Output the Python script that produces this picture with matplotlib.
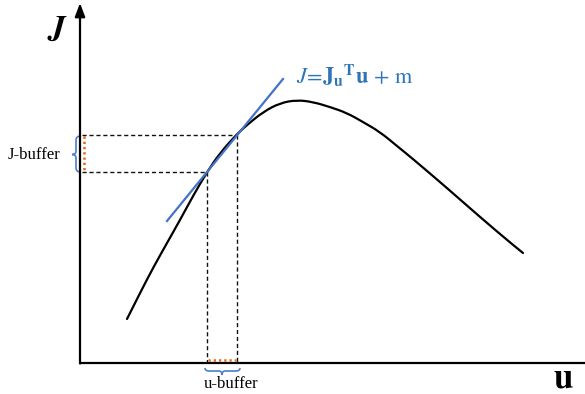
import matplotlib
matplotlib.use("Agg")
import matplotlib.pyplot as plt
from matplotlib.path import Path
from matplotlib.patches import PathPatch

plt.rcParams['font.family'] = ['Liberation Serif', 'DejaVu Serif']
plt.rcParams['mathtext.fontset'] = 'stix'

# curve J(u), drawn in pixel-like units (y grows downwards)
curve_u = [127, 140, 153, 167, 180, 193, 207, 220, 237, 247, 263, 280,
           297, 313, 330, 347, 363, 380, 397, 413, 447, 480, 513, 523]
curve_j = [319, 293, 268, 243, 220, 196, 172, 153, 134, 125, 112, 103,
           100, 102, 107, 113, 122, 132, 146, 159, 188, 217, 245, 253]

# tangent line end points
tan_u = [167, 283]
tan_j = [221, 79]

# buffer corners
u_lo, u_hi = 207, 237
j_lo, j_hi = 172, 135

# axes origin / extents
orig_u, orig_j = 80, 363
u_end, j_end = 585, 3


def smooth_path(xs, ys):
    # quadratic segments through mid-points, data points act as controls
    pts = list(zip(xs, ys))
    verts = [pts[0]]
    codes = [Path.MOVETO]
    for i in range(1, len(pts) - 1):
        mid = ((pts[i][0] + pts[i + 1][0]) / 2, (pts[i][1] + pts[i + 1][1]) / 2)
        if i == len(pts) - 2:
            mid = pts[-1]
        verts += [pts[i], mid]
        codes += [Path.CURVE3, Path.CURVE3]
    return Path(verts, codes)


fig = plt.figure(figsize=(5.85, 3.94), dpi=100)
ax = fig.add_axes([0, 0, 1, 1])
ax.set_xlim(0, 585)
ax.set_ylim(394, 0)
ax.axis('off')

# axes
ax.plot([orig_u, u_end], [orig_j, orig_j], color='black', lw=1.6,
        solid_capstyle='butt')
ax.annotate('', xy=(orig_u, j_end), xytext=(orig_u, orig_j + 0.5),
            arrowprops=dict(arrowstyle='-|>,head_length=0.8,head_width=0.3',
                            color='black', lw=1.6, shrinkA=0, shrinkB=0))

# dashed guides
dash = dict(color='#111111', lw=1.0, ls=(0, (3, 2)))
ax.plot([82, u_hi], [j_hi, j_hi], **dash)
ax.plot([82, u_lo], [j_lo, j_lo], **dash)
ax.plot([u_lo, u_lo], [j_lo, orig_j], **dash)
ax.plot([u_hi, u_hi], [j_hi, orig_j], **dash)

# orange buffer marks
dot = dict(color='#E0661A', lw=1.8, ls=(0, (0.9, 1.2)))
ax.plot([83.5, 83.5], [j_hi + 1, j_lo - 1], **dot)
ax.plot([u_lo + 1, u_hi - 1], [360, 360], **dot)

# curve and tangent
ax.add_patch(PathPatch(smooth_path(curve_u, curve_j), fill=False,
                       ec='black', lw=1.6, capstyle='round'))
ax.plot(tan_u, tan_j, color='#4472C4', lw=1.6)

# braces
brace_c = '#4A7FD0'
left = Path([(81, j_hi + 1), (76, j_hi + 1), (76, j_hi + 5),
             (76, 151), (76, 154.5), (72, 154.5),
             (76, 154.5), (76, 158), (76, j_lo - 4),
             (76, j_lo), (81, j_lo)],
            [Path.MOVETO, Path.CURVE3, Path.CURVE3,
             Path.LINETO, Path.CURVE3, Path.CURVE3,
             Path.CURVE3, Path.CURVE3, Path.LINETO,
             Path.CURVE3, Path.CURVE3])
ax.add_patch(PathPatch(left, fill=False, ec=brace_c, lw=1.2))
bottom = Path([(205, 368), (205, 371), (209, 371),
               (219, 371), (222, 371), (222, 375),
               (222, 371), (225, 371), (236, 371),
               (240, 371), (240, 368)],
              [Path.MOVETO, Path.CURVE3, Path.CURVE3,
               Path.LINETO, Path.CURVE3, Path.CURVE3,
               Path.CURVE3, Path.CURVE3, Path.LINETO,
               Path.CURVE3, Path.CURVE3])
ax.add_patch(PathPatch(bottom, fill=False, ec=brace_c, lw=1.2))

# labels
ax.text(58, 30, r'$\boldsymbol{J}$', fontsize=24, ha='center', va='center')
ax.text(563, 379, r'$\mathbf{u}$', fontsize=25, ha='center', va='center')
ax.text(8, 155, 'J-buffer', fontsize=12, ha='left', va='center')
ax.text(231, 384, 'u-buffer', fontsize=12, ha='center', va='center')
ax.text(296, 76,
        r'$\mathit{J}\!=\!\mathbf{J}_{\mathbf{u}}{}^{\mathbf{T}}\mathbf{u}\,+\,\mathrm{m}$',
        fontsize=16, color='#2E75B6', ha='left', va='center')

fig.savefig('out.png', dpi=100)
